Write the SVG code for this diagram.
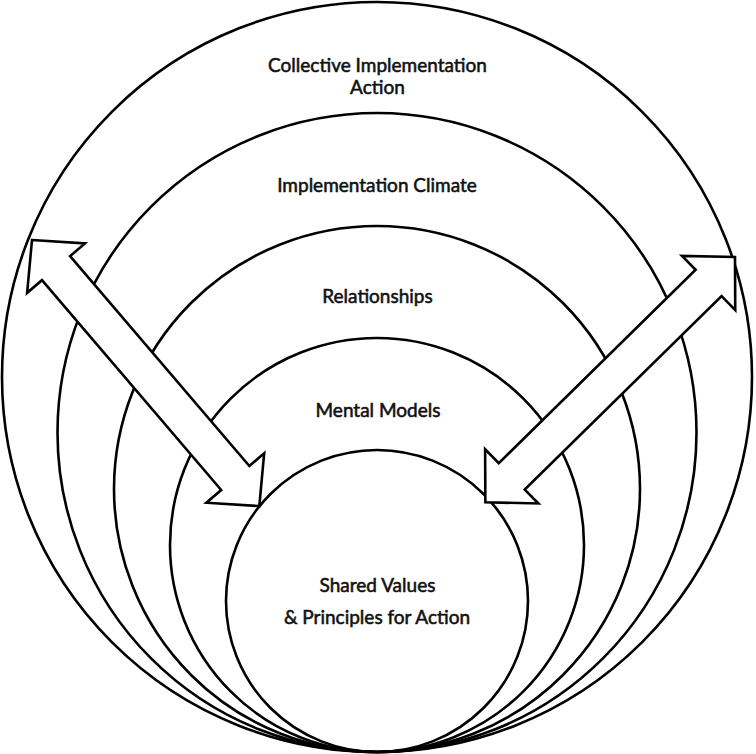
<svg xmlns="http://www.w3.org/2000/svg" width="756" height="754" viewBox="0 0 756 754">
<style>
.ring{fill:none;stroke:#000;stroke-width:2.6}
.arrow{fill:#fff;stroke:#000;stroke-width:2.6;stroke-linejoin:miter}
.lbl{font-family:Lato,"Liberation Sans",sans-serif;font-size:19px;fill:#111;stroke:#111;stroke-width:0.55;text-anchor:middle}
</style>
<defs>
<path id="dblarrow" d="M0,0 L37,-38 L37,-18.5 L313,-18.5 L313,-38 L350,0 L313,38 L313,18.5 L37,18.5 L37,38 Z"/>
</defs>
<rect width="756" height="754" fill="#fff"/>
<g id="ring-collective">
<circle class="ring" cx="377" cy="377" r="375"/>
<text class="lbl" x="377.5" y="72">Collective Implementation</text>
<text class="lbl" x="377.5" y="94">Action</text>
</g>
<g id="ring-climate">
<circle class="ring" cx="377" cy="432.5" r="319.5"/>
<text class="lbl" x="377" y="192">Implementation Climate</text>
</g>
<g id="ring-relationships">
<circle class="ring" cx="377" cy="489" r="263"/>
<text class="lbl" x="377.5" y="303">Relationships</text>
</g>
<g id="ring-mental">
<circle class="ring" cx="377" cy="545" r="207"/>
<text class="lbl" x="378" y="417">Mental Models</text>
</g>
<g id="ring-shared">
<circle class="ring" cx="377" cy="601" r="151"/>
<text class="lbl" x="377.5" y="592">Shared Values</text>
<text class="lbl" x="377" y="624">&amp; Principles for Action</text>
</g>
<g id="connectors">
<use href="#dblarrow" class="arrow" transform="translate(32,240) rotate(49.5)"/>
<use href="#dblarrow" class="arrow" transform="translate(735,257) rotate(135.5)"/>
</g>
</svg>
